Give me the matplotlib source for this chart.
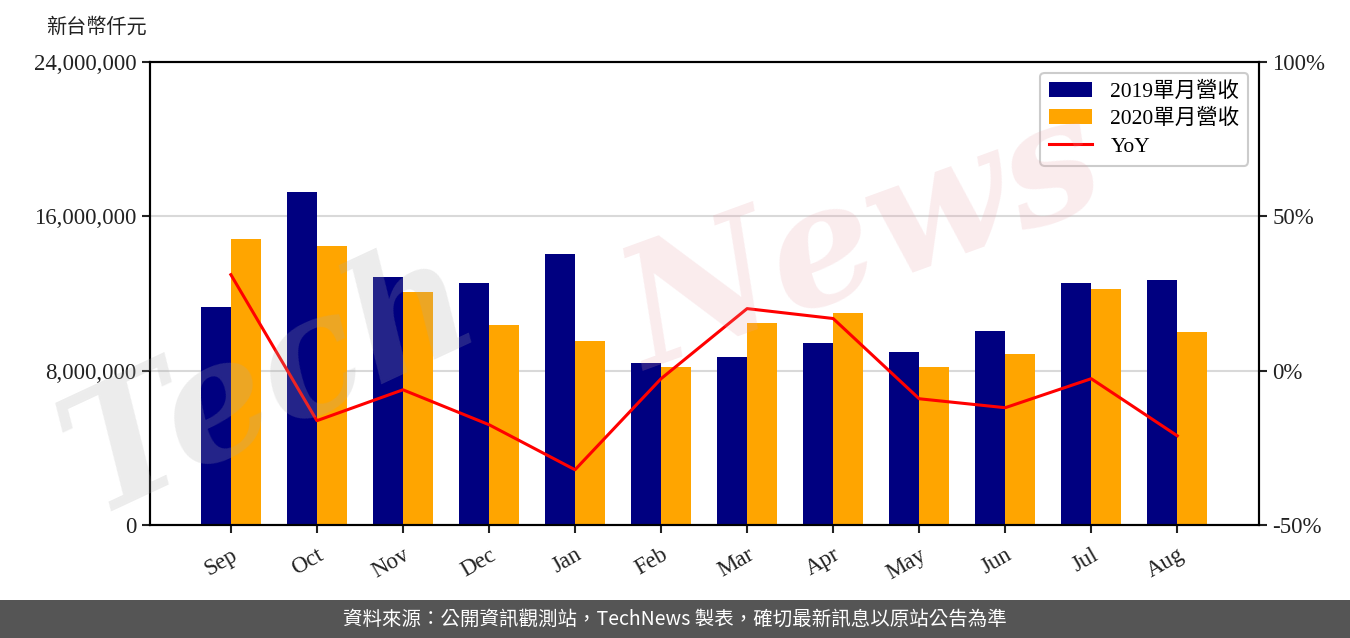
import matplotlib
matplotlib.use("Agg")
import matplotlib.pyplot as plt
import numpy as np
from matplotlib.ticker import FuncFormatter

plt.rcParams['font.family'] = ['Liberation Serif', 'Noto Sans CJK TC', 'DejaVu Sans']

months = ['Sep', 'Oct', 'Nov', 'Dec', 'Jan', 'Feb', 'Mar', 'Apr', 'May', 'Jun', 'Jul', 'Aug']
rev_2019 = [11.30e6, 17.26e6, 12.86e6, 12.54e6, 14.05e6, 8.40e6, 8.71e6, 9.43e6, 8.97e6, 10.06e6, 12.54e6, 12.70e6]
rev_2020 = [14.83e6, 14.46e6, 12.08e6, 10.37e6, 9.54e6, 8.19e6, 10.47e6, 10.99e6, 8.19e6, 8.86e6, 12.23e6, 10.00e6]
yoy_pct = [31.1, -16.2, -6.2, -17.5, -32.1, -2.6, 20.1, 16.9, -9.1, -12.0, -2.6, -21.1]

label_2019 = '2019單月營收'
label_2020 = '2020單月營收'
label_yoy = 'YoY'
unit_label = '新台幣仟元'
footer = '資料來源：公開資訊觀測站，TechNews 製表，確切最新訊息以原站公告為準'

fig = plt.figure(figsize=(13.5, 6.38), dpi=100)
ax = fig.add_axes([150/1350, 1-525/638, (1259-150)/1350, (525-62)/638])
ax2 = ax.twinx()

x = np.arange(len(months))
w = 0.35
ax.set_axisbelow(True)
ax.grid(axis='y', color='#d9d9d9', linewidth=1.5)
b1 = ax.bar(x - w/2, rev_2019, width=w, color='#000080', label=label_2019, zorder=2)
b2 = ax.bar(x + w/2, rev_2020, width=w, color='#FFA500', label=label_2020, zorder=2)
ax.set_ylim(0, 24e6)
ax.set_yticks([0, 8e6, 16e6, 24e6])
ax.yaxis.set_major_formatter(FuncFormatter(lambda v, p: f'{int(v):,}'))
ax.set_xlim(-0.94, 11.95)
ax.set_xticks(x)
ax.set_xticklabels(months, rotation=30, ha='right', rotation_mode='anchor')

l1, = ax2.plot(x, yoy_pct, color='#FF0000', linewidth=2.2, label=label_yoy, zorder=3)
ax2.set_ylim(-50, 100)
ax2.set_yticks([-50, 0, 50, 100])
ax2.yaxis.set_major_formatter(FuncFormatter(lambda v, p: f'{int(v)}%'))

for a in (ax, ax2):
    for s in a.spines.values():
        s.set_linewidth(1.5)
    a.tick_params(labelsize=16.5, width=1.5, length=6, colors='#222222', labelcolor='#222222')
ax.tick_params(axis='x', pad=8)

leg = ax2.legend([b1, b2, l1], [label_2019, label_2020, label_yoy], loc='upper right',
                 fontsize=15.5, framealpha=1, edgecolor='#cccccc', fancybox=True,
                 handlelength=2.0, handletextpad=0.85, borderpad=0.4, labelspacing=0.35)
leg.get_frame().set_linewidth(1.5)

# watermark
fig.text(0.20, 0.40, 'Tech', fontsize=120, color='#aaaaaa', alpha=0.22, rotation=25,
         fontstyle='italic', fontweight='bold', ha='center', va='center', family='DejaVu Serif', zorder=10)
fig.text(0.64, 0.62, 'News', fontsize=120, color='#e8a0a8', alpha=0.2, rotation=20,
         fontstyle='italic', fontweight='bold', ha='center', va='center', family='DejaVu Serif', zorder=10)

fig.text(96/1350, 1-27/638, unit_label, fontsize=14.5, ha='center', va='center',
         family=['Noto Sans CJK TC'], color='#222222')

# footer band
fig.patches.append(plt.Rectangle((0, 0), 1, 38/638, transform=fig.transFigure,
                                 facecolor='#555555', edgecolor='none', zorder=0))
fig.text(0.5, 19/638, footer, fontsize=14, color='white', ha='center', va='center',
         family=['Noto Sans CJK TC', 'DejaVu Sans'])

fig.savefig('out.png', dpi=100)
